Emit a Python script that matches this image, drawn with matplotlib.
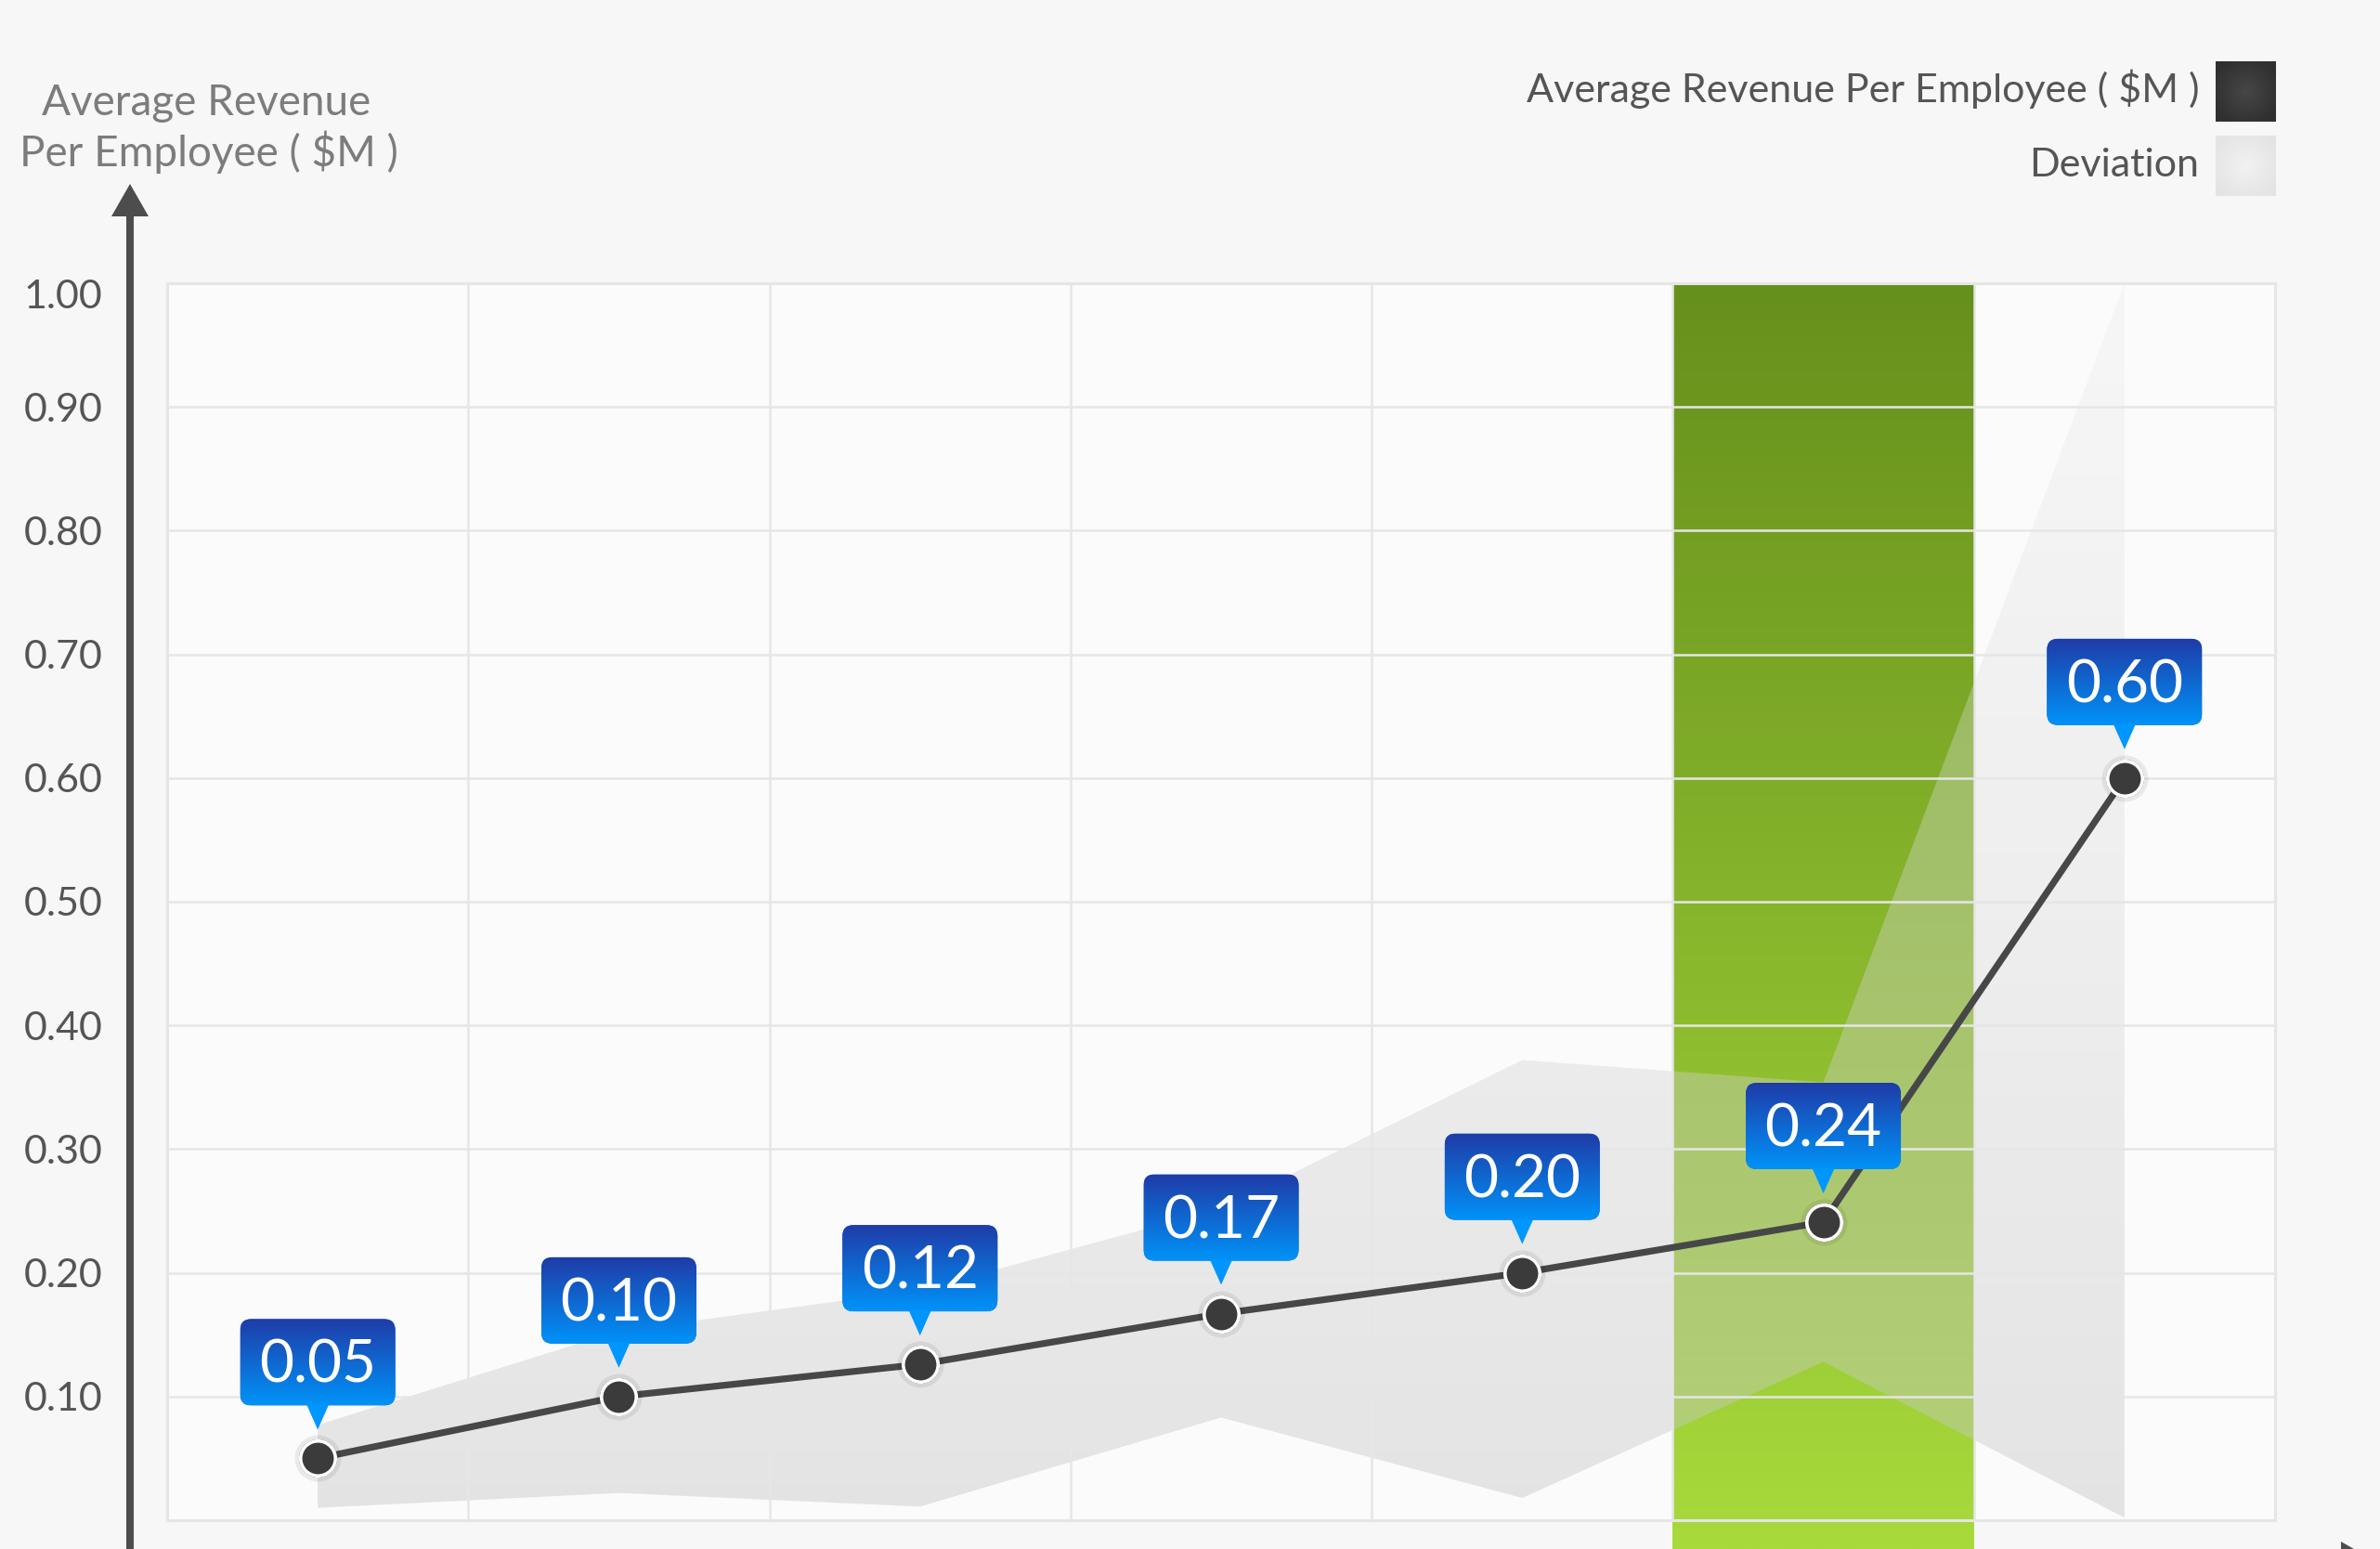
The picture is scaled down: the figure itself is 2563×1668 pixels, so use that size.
import numpy as np
import matplotlib
matplotlib.use("Agg")
import matplotlib.pyplot as plt
from matplotlib.patches import FancyBboxPatch, Polygon
from matplotlib.lines import Line2D
from matplotlib.colors import to_rgb
from matplotlib.transforms import ScaledTranslation

# ---------------- data ----------------
periods = [1, 2, 3, 4, 5, 6, 7]
values = [0.05, 0.10, 0.126, 0.167, 0.20, 0.241, 0.60]
value_labels = ["0.05", "0.10", "0.12", "0.17", "0.20", "0.24", "0.60"]
dev_upper = [0.077, 0.153, 0.186, 0.252, 0.372, 0.354, 1.00]
dev_lower = [0.010, 0.022, 0.011, 0.083, 0.018, 0.128, 0.002]
highlight_index = 5
y_ticks = [0.10, 0.20, 0.30, 0.40, 0.50, 0.60, 0.70, 0.80, 0.90, 1.00]
y_tick_labels = ["0.10", "0.20", "0.30", "0.40", "0.50", "0.60", "0.70", "0.80", "0.90", "1.00"]
y_title = "Average Revenue\nPer Employee ( $M )"
legend_labels = ["Average Revenue Per Employee ( $M )", "Deviation"]

# ---------------- figure ----------------
W, H, DPI = 2563, 1668, 100
plt.rcParams['font.family'] = ['Lato', 'DejaVu Sans']
fig = plt.figure(figsize=(W / DPI, H / DPI), dpi=DPI, facecolor='#f7f7f7')

L, R, T, B = 180, 2450, 305, 1637
ax = fig.add_axes([L / W, (H - B) / H, (R - L) / W, (B - T) / H])
n = len(periods)
ax.set_xlim(0, n)
ax.set_ylim(0, 1)
ax.set_facecolor('#fbfbfb')
for s in ax.spines.values():
    s.set_color('#e6e6e6')
    s.set_linewidth(2.2)

axw = (R - L)
axh = (B - T)
dx = n / axw
dy = 1.0 / axh

xs = np.arange(n) + 0.5

# grid
ax.set_xticks(np.arange(n + 1))
ax.set_xticklabels([])
ax.set_yticks(y_ticks)
ax.set_yticklabels(y_tick_labels, fontsize=31, color='#555555')
ax.tick_params(axis='both', length=0)
ax.tick_params(axis='y', pad=50)
ax.grid(True, color='#e6e6e6', linewidth=1.8)
ax.set_axisbelow(False)
top_lbl = ax.get_yticklabels()[-1]
top_lbl.set_transform(top_lbl.get_transform() + ScaledTranslation(0, -12 / DPI, fig.dpi_scale_trans))

# highlight band (green gradient, extends to figure bottom)
y_fig_bottom = -(H - B) / axh
c_top = np.array(to_rgb('#66901c'))
c_bot = np.array(to_rgb('#a8da3c'))
t = np.linspace(0, 1, 256)[:, None, None]
grad = c_top * (1 - t) + c_bot * t
ax.imshow(grad, extent=[highlight_index, highlight_index + 1, y_fig_bottom, 1],
          aspect='auto', interpolation='bilinear', clip_on=False, zorder=0.5)

# deviation band (vertical gradient, clipped by polygon)
verts = list(zip(xs, dev_upper)) + list(zip(xs[::-1], dev_lower[::-1]))
band = Polygon(verts, closed=True, transform=ax.transData)
dt = np.linspace(0, 1, 256)[:, None]
band_img = np.zeros((256, 1, 4))
top_rgba = np.array([235 / 255, 235 / 255, 235 / 255, 0.30])
bot_rgba = np.array([198 / 255, 198 / 255, 198 / 255, 0.44])
band_img[:, 0, :] = top_rgba * (1 - dt) + bot_rgba * dt
im = ax.imshow(band_img, extent=[0, n, 0, 1], aspect='auto', interpolation='bilinear', zorder=1)
im.set_clip_path(band)

# line + markers
ax.plot(xs, values, color='#474747', linewidth=5.2, zorder=5, solid_capstyle='round')
ax.plot(xs, values, linestyle='none', marker='o', markersize=36, markerfacecolor='#000000',
        markeredgewidth=0, alpha=0.07, zorder=5.2)
ax.plot(xs, values, linestyle='none', marker='o', markersize=29.5, markerfacecolor='#3a3a3a',
        markeredgewidth=0, zorder=5.4)
ax.plot(xs, values, linestyle='none', marker='o', markersize=27, markerfacecolor='#3b3b3b',
        markeredgecolor='white', markeredgewidth=2.6, zorder=5.6)

# value callouts
bw, bh, gap, tip, rad = 167, 93, 57, 31, 12
b_top = np.array(to_rgb('#1f3ca8'))
b_bot = np.array(to_rgb('#0093f8'))
bgrad = b_top * (1 - t) + b_bot * t
for x, v, lab in zip(xs, values, value_labels):
    x0 = x - bw * dx / 2
    y0 = v + gap * dy
    box = FancyBboxPatch((x0, y0), bw * dx, bh * dy,
                         boxstyle=f"round,pad=0,rounding_size={rad * dx}",
                         mutation_aspect=dy / dx, transform=ax.transData,
                         facecolor='#1060d0', edgecolor='none', zorder=7)
    ax.add_patch(box)
    bi = ax.imshow(bgrad, extent=[x0, x0 + bw * dx, y0, y0 + bh * dy], aspect='auto',
                   interpolation='bilinear', zorder=7.1)
    bi.set_clip_path(box)
    ptr = Polygon([(x - 12 * dx, y0 + 1 * dy), (x + 12 * dx, y0 + 1 * dy), (x, v + tip * dy)],
                  closed=True, facecolor='#0096ff', edgecolor='none', zorder=7.2)
    ax.add_patch(ptr)
    ax.text(x, y0 + bh * dy / 2 - 22 * dy, lab, ha='center', va='baseline', color='white',
            fontsize=46, zorder=8)

ax.set_xlim(0, n)
ax.set_ylim(0, 1)

# y axis arrow (figure pixels)
def fx(px):
    return px / W

def fy(py):
    return 1 - py / H

fig.add_artist(Line2D([fx(140), fx(140)], [fy(228), fy(H + 5)], color='#4d4d4d', linewidth=5.8,
                      transform=fig.transFigure))
fig.add_artist(Polygon([(fx(120), fy(233)), (fx(160), fy(233)), (fx(140), fy(198))], closed=True,
                       facecolor='#4d4d4d', edgecolor='none', transform=fig.transFigure))
# x axis arrow tip (partially visible)
fig.add_artist(Polygon([(fx(2521), fy(1660)), (fx(2521), fy(1700)), (fx(2556), fy(1680))], closed=True,
                       facecolor='#4d4d4d', edgecolor='none', transform=fig.transFigure))

# y title
l1, l2 = y_title.split("\n")
fig.text(fx(222), fy(124), l1, ha='center', va='baseline', fontsize=33, color='#7c7c7c')
fig.text(fx(225), fy(179), l2, ha='center', va='baseline', fontsize=33, color='#7c7c7c')

# legend
fig.text(fx(2368), fy(110), legend_labels[0], ha='right', va='baseline', fontsize=31, color='#555555')
fig.text(fx(2368), fy(190), legend_labels[1], ha='right', va='baseline', fontsize=31, color='#555555')

def swatch(px0, py0, size, c_center, c_edge):
    sax = fig.add_axes([fx(px0), fy(py0 + size), size / W, size / H])
    g = np.linspace(-1, 1, 64)
    X, Y = np.meshgrid(g, g)
    r = np.clip(np.sqrt(X ** 2 + Y ** 2) / 1.2, 0, 1)[:, :, None]
    img = np.array(to_rgb(c_center)) * (1 - r) + np.array(to_rgb(c_edge)) * r
    sax.imshow(img, aspect='auto', interpolation='bilinear')
    sax.set_axis_off()

swatch(2386, 66, 65, '#474747', '#2f2f2f')
swatch(2386, 146, 65, '#f2f2f2', '#e4e4e4')

fig.savefig('out.png', dpi=DPI, facecolor=fig.get_facecolor())
